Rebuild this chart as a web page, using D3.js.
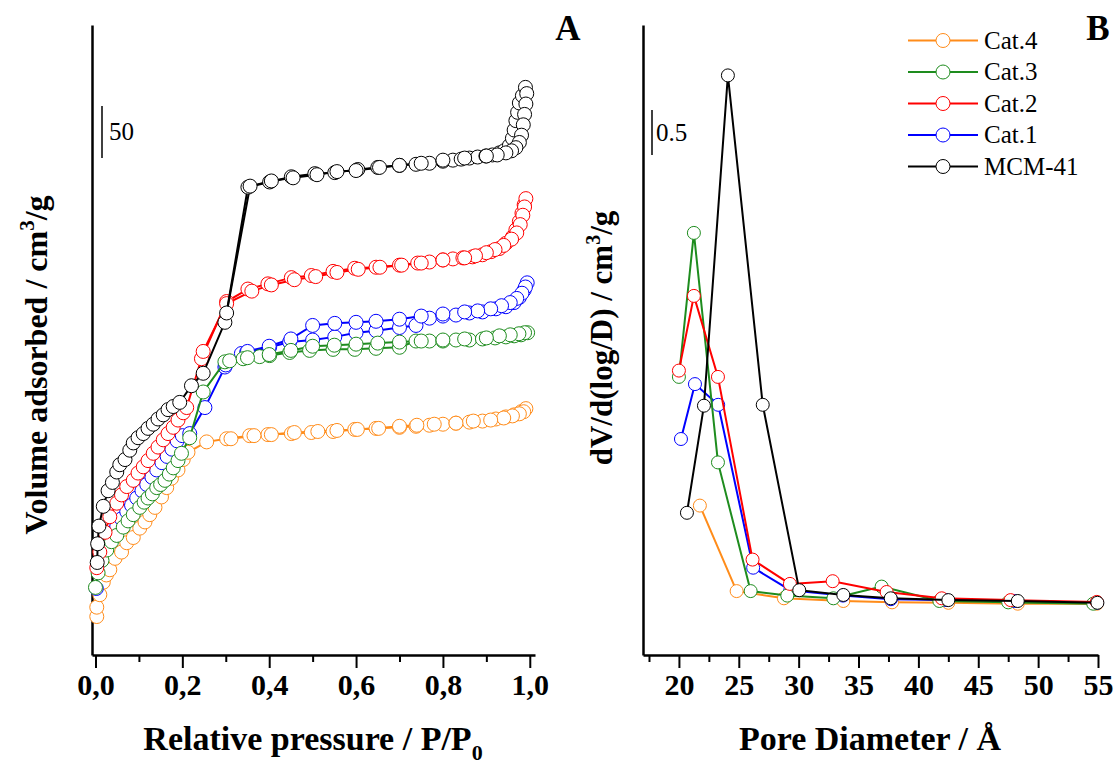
<!DOCTYPE html>
<html>
  <body style="margin:0;background:#fff">
    <style>
      text {
        font-family: 'Liberation Serif', 'Times New Roman', serif;
      }
      .tick text {
        font-size: 30px;
        font-weight: bold;
      }
      .title {
        font-weight: bold;
      }
    </style>
    <div class="chart"></div>
    <script src="https://cdn.jsdelivr.net/npm/d3@7"></script>
    <script type="text/javascript">
      // ---------- panel A: N2 isotherms, [P/P0, volume] ----------
      const pressureTicks = [0, 0.2, 0.4, 0.6, 0.8, 1.0];
      const pressureMinor = [0.1, 0.3, 0.5, 0.7, 0.9];

      const cat4Ads = [[0.003, 37], [0.003, 46], [0.01, 58], [0.018, 70], [0.025, 77], [0.033, 82], [0.045, 93],
        [0.06, 99], [0.072, 108], [0.087, 113], [0.102, 122], [0.114, 128], [0.125, 135], [0.137, 142],
        [0.152, 152], [0.164, 161], [0.175, 170], [0.19, 178], [0.202, 188], [0.213, 195], [0.256, 205],
        [0.302, 208], [0.355, 211], [0.397, 212], [0.451, 213], [0.497, 214], [0.547, 215], [0.597, 217],
        [0.646, 218], [0.7, 219], [0.738, 220], [0.769, 221], [0.8, 222], [0.83, 223], [0.861, 224],
        [0.891, 225], [0.922, 227], [0.945, 229], [0.964, 231], [0.98, 234], [0.991, 237]];
      const cat4Des = [[0.991, 237], [0.986, 234], [0.976, 232], [0.96, 230], [0.94, 228], [0.91, 226],
        [0.87, 225], [0.83, 223], [0.78, 222], [0.74, 221], [0.7, 220], [0.652, 218], [0.603, 217],
        [0.556, 216], [0.512, 215], [0.458, 214], [0.405, 212], [0.365, 211], [0.312, 208]];

      const cat1Ads = [[0.002, 64], [0.008, 89], [0.02, 106], [0.035, 117], [0.049, 124], [0.06, 131],
        [0.072, 138], [0.083, 144], [0.095, 151], [0.107, 158], [0.118, 164], [0.13, 171], [0.141, 178],
        [0.153, 185], [0.165, 191], [0.176, 198], [0.188, 206], [0.2, 211], [0.217, 213], [0.252, 238],
        [0.298, 277], [0.336, 290], [0.348, 291], [0.401, 296], [0.447, 301], [0.5, 303], [0.551, 306],
        [0.6, 310], [0.646, 312], [0.7, 315], [0.738, 317], [0.769, 324], [0.8, 326], [0.83, 327],
        [0.861, 329], [0.891, 330], [0.922, 333], [0.945, 335], [0.964, 339], [0.976, 344], [0.987, 351],
        [0.994, 358]];
      const cat1Des = [[0.994, 358], [0.99, 354], [0.982, 348], [0.97, 343], [0.955, 339], [0.935, 336],
        [0.91, 333], [0.88, 331], [0.85, 330], [0.8, 328], [0.75, 326], [0.7, 323], [0.646, 321],
        [0.6, 320], [0.551, 319], [0.5, 317], [0.45, 304], [0.4, 297], [0.35, 292], [0.3, 279]];

      const cat3Ads = [[0.0, 65], [0.006, 79], [0.015, 91], [0.026, 101], [0.037, 109], [0.049, 115],
        [0.064, 123], [0.075, 129], [0.087, 135], [0.102, 142], [0.112, 147], [0.121, 151], [0.131, 155],
        [0.141, 161], [0.15, 164], [0.16, 168], [0.17, 174], [0.179, 180], [0.19, 187], [0.198, 194],
        [0.217, 209], [0.248, 253], [0.298, 282], [0.309, 283], [0.34, 285], [0.378, 287], [0.401, 288],
        [0.447, 291], [0.493, 293], [0.547, 294], [0.597, 294], [0.646, 295], [0.7, 296], [0.738, 302],
        [0.769, 302], [0.8, 302], [0.83, 303], [0.861, 303], [0.891, 304], [0.92, 305], [0.945, 306],
        [0.964, 307], [0.98, 308], [0.995, 310]];
      const cat3Des = [[0.995, 310], [0.988, 310], [0.975, 309], [0.955, 308], [0.93, 307], [0.9, 305],
        [0.85, 304], [0.8, 303], [0.75, 302], [0.7, 301], [0.65, 300], [0.6, 299], [0.55, 298],
        [0.5, 297], [0.45, 293], [0.4, 289], [0.35, 286]];

      const cat2Ads = [[0.003, 84], [0.01, 99], [0.022, 118], [0.033, 133], [0.049, 146], [0.06, 154],
        [0.072, 162], [0.087, 168], [0.098, 175], [0.11, 181], [0.121, 187], [0.133, 194], [0.144, 200],
        [0.156, 207], [0.167, 213], [0.179, 219], [0.19, 226], [0.202, 233], [0.21, 238], [0.244, 285],
        [0.302, 340], [0.351, 352], [0.397, 357], [0.451, 363], [0.497, 365], [0.547, 369], [0.597, 372],
        [0.646, 373], [0.7, 375], [0.742, 377], [0.769, 378], [0.8, 380], [0.823, 381], [0.846, 382],
        [0.868, 383], [0.891, 385], [0.911, 388], [0.93, 391], [0.945, 396], [0.96, 402], [0.968, 409],
        [0.976, 417], [0.982, 425], [0.987, 433], [0.991, 439]];
      const cat2Des = [[0.991, 439], [0.988, 431], [0.984, 423], [0.978, 414], [0.97, 406], [0.958, 400],
        [0.94, 394], [0.92, 390], [0.9, 387], [0.875, 384], [0.85, 382], [0.8, 380], [0.75, 377],
        [0.705, 375], [0.655, 373], [0.605, 371], [0.556, 368], [0.507, 364], [0.458, 361], [0.405, 356],
        [0.36, 350], [0.302, 338], [0.248, 292]];

      const mcmAds = [[0.004, 89], [0.005, 107], [0.008, 124], [0.018, 143], [0.029, 158], [0.039, 166],
        [0.049, 176], [0.056, 183], [0.068, 188], [0.079, 197], [0.087, 204], [0.098, 209], [0.11, 213],
        [0.121, 218], [0.133, 222], [0.144, 227], [0.156, 231], [0.167, 236], [0.179, 239], [0.194, 243],
        [0.221, 259], [0.248, 271], [0.298, 320], [0.351, 450], [0.401, 455], [0.451, 460], [0.505, 463],
        [0.551, 464], [0.604, 467], [0.65, 469], [0.7, 471], [0.738, 472], [0.769, 473], [0.8, 475],
        [0.823, 476], [0.842, 477], [0.861, 478], [0.88, 479], [0.899, 480], [0.914, 481], [0.93, 483],
        [0.941, 485], [0.953, 490], [0.96, 497], [0.964, 505], [0.968, 514], [0.972, 522], [0.976, 531],
        [0.983, 538], [0.99, 546]];
      const mcmDes = [[0.99, 546], [0.993, 540], [0.991, 530], [0.988, 520], [0.985, 510], [0.981, 500],
        [0.976, 493], [0.968, 488], [0.958, 485], [0.945, 483], [0.925, 481], [0.9, 480], [0.85, 478],
        [0.8, 476], [0.75, 473], [0.7, 471], [0.654, 469], [0.6, 466], [0.556, 465], [0.51, 462],
        [0.455, 459], [0.405, 456], [0.356, 451], [0.302, 329]];

      // ---------- panel B: pore size distribution, [D, dV/dlogD] ----------
      const poreTicks = [20, 25, 30, 35, 40, 45, 50, 55];
      const poreMinor = [17.5, 22.5, 27.5, 32.5, 37.5, 42.5, 47.5, 52.5];

      const cat4Psd = [[21.75, 1.66], [24.82, 0.71], [28.77, 0.63], [33.73, 0.6], [37.8, 0.585],
        [42.5, 0.58], [48.3, 0.57], [54.9, 0.57]];
      const cat1Psd = [[20.17, 2.4], [21.34, 3.01], [23.28, 2.78], [26.2, 0.97], [29.3, 0.72],
        [33.7, 0.66], [37.7, 0.62], [42.3, 0.61], [48.0, 0.6], [54.9, 0.58]];
      const cat3Psd = [[20.0, 3.09], [21.25, 4.69], [23.26, 2.14], [25.99, 0.71], [29.05, 0.66],
        [32.9, 0.63], [36.93, 0.76], [41.75, 0.6], [47.5, 0.585], [54.6, 0.57]];
      const cat2Psd = [[20.0, 3.16], [21.25, 3.99], [23.26, 3.09], [26.15, 1.06], [29.27, 0.79],
        [32.84, 0.82], [37.35, 0.7], [41.95, 0.63], [47.7, 0.61], [54.9, 0.59]];
      const mcmPsd = [[20.67, 1.58], [22.09, 2.77], [24.09, 6.44], [27.0, 2.78], [30.05, 0.72],
        [33.73, 0.667], [37.69, 0.63], [42.5, 0.61], [48.3, 0.6], [54.95, 0.58]];

      const seriesNames = ['Cat.4', 'Cat.1', 'Cat.3', 'Cat.2', 'MCM-41'];
      const seriesColors = ['#ff8c1a', '#0000ff', '#1e8c1e', '#ff0000', '#000000'];
      const legendOrder = ['Cat.4', 'Cat.3', 'Cat.2', 'Cat.1', 'MCM-41'];

      const isotherms = [
        { name: 'Cat.4', ads: cat4Ads, des: cat4Des },
        { name: 'Cat.1', ads: cat1Ads, des: cat1Des },
        { name: 'Cat.3', ads: cat3Ads, des: cat3Des },
        { name: 'Cat.2', ads: cat2Ads, des: cat2Des },
        { name: 'MCM-41', ads: mcmAds, des: mcmDes },
      ];
      const psd = [
        { name: 'Cat.4', values: cat4Psd },
        { name: 'Cat.1', values: cat1Psd },
        { name: 'Cat.3', values: cat3Psd },
        { name: 'Cat.2', values: cat2Psd },
        { name: 'MCM-41', values: mcmPsd },
      ];
      const color = d3.scaleOrdinal().domain(seriesNames).range(seriesColors);

      const width = 1117;
      const height = 765;
      const svg = d3
        .select('.chart')
        .append('svg')
        .attr('width', width)
        .attr('height', height);

      const serif = "'Liberation Serif', 'Times New Roman', serif";
      const commaFormat = (d) => d3.format('.1f')(d).replace('.', ',');

      function drawAxes(x, y, majors, minors, fmt) {
        const gx = svg.append('g').attr('transform', `translate(0, ${y.range()[0]})`);
        gx.call(d3.axisBottom(x).tickValues(minors).tickSize(7).tickSizeOuter(0).tickFormat(''));
        gx.call((g) => g.select('.domain').remove());
        const gx2 = svg.append('g').attr('transform', `translate(0, ${y.range()[0]})`);
        gx2.call(d3.axisBottom(x).tickValues(majors).tickSize(13).tickSizeOuter(0).tickFormat(fmt).tickPadding(6));
        gx2.attr('font-family', serif);
        svg.selectAll('.tick line').attr('stroke', '#000').attr('stroke-width', 2);
        gx2.select('.domain').attr('stroke-width', 2.5);
        gx2.selectAll('.tick text')
          .attr('fill', '#000')
          .style('font-family', serif)
          .style('font-weight', 'bold');
        const gy = svg.append('g').attr('transform', `translate(${x.range()[0]}, 0)`);
        gy.call(d3.axisLeft(y).tickValues([]).tickSizeOuter(0));
        gy.select('.domain').attr('stroke-width', 2.5);
      }

      // ---------- panel A ----------
      const xA = d3.scaleLinear().domain([-0.008, 1.012]).range([92, 535]);
      const yA = d3.scaleLinear().domain([0, 606]).range([655, 25]);
      drawAxes(xA, yA, pressureTicks, pressureMinor, commaFormat);

      const lineA = d3.line().x((d) => xA(d[0])).y((d) => yA(d[1]));
      isotherms.forEach((s) => {
        const g = svg.append('g');
        [s.ads, s.des].forEach((pts) => {
          g.append('path')
            .attr('d', lineA(pts))
            .attr('fill', 'none')
            .attr('stroke', color(s.name))
            .attr('stroke-width', 2);
        });
        g.selectAll('circle')
          .data(s.ads.concat(s.des.slice(1)))
          .enter()
          .append('circle')
          .attr('cx', (d) => xA(d[0]))
          .attr('cy', (d) => yA(d[1]))
          .attr('r', 7)
          .attr('fill', '#fff')
          .attr('stroke', color(s.name))
          .attr('stroke-width', 1);
      });

      // scale bar 50 cm3/g
      svg.append('line')
        .attr('x1', 102).attr('x2', 102)
        .attr('y1', yA(528)).attr('y2', yA(478))
        .attr('stroke', '#000').attr('stroke-width', 1.5);
      svg.append('text').attr('x', 109).attr('y', yA(503) + 8).attr('font-size', 25).text('50');

      svg.append('text').attr('x', 568).attr('y', 40).attr('text-anchor', 'middle')
        .attr('font-size', 35).attr('font-weight', 'bold').text('A');

      const titleA = svg.append('text').attr('class', 'title').attr('font-size', 34)
        .attr('x', 313).attr('y', 750).attr('text-anchor', 'middle');
      titleA.append('tspan').text('Relative pressure / P/P');
      titleA.append('tspan').attr('dy', 10).attr('font-size', 22).text('0');

      const yTitleA = svg.append('text').attr('class', 'title').attr('font-size', 32)
        .attr('transform', 'translate(47, 365) rotate(-90)').attr('text-anchor', 'middle');
      yTitleA.append('tspan').text('Volume adsorbed / cm');
      yTitleA.append('tspan').attr('dy', -13).attr('font-size', 21).text('3');
      yTitleA.append('tspan').attr('dy', 13).text('/g');

      // ---------- panel B ----------
      const xB = d3.scaleLinear().domain([17, 55]).range([643, 1098]);
      const yB = d3.scaleLinear().domain([0, 7]).range([655, 25]);
      drawAxes(xB, yB, poreTicks, poreMinor, d3.format('d'));

      const lineB = d3.line().x((d) => xB(d[0])).y((d) => yB(d[1]));
      psd.forEach((s) => {
        const g = svg.append('g');
        g.append('path')
          .attr('d', lineB(s.values))
          .attr('fill', 'none')
          .attr('stroke', color(s.name))
          .attr('stroke-width', 2);
        g.selectAll('circle')
          .data(s.values)
          .enter()
          .append('circle')
          .attr('cx', (d) => xB(d[0]))
          .attr('cy', (d) => yB(d[1]))
          .attr('r', 6.5)
          .attr('fill', '#fff')
          .attr('stroke', color(s.name))
          .attr('stroke-width', 1);
      });

      // scale bar 0.5
      svg.append('line')
        .attr('x1', 652).attr('x2', 652)
        .attr('y1', yB(6.055)).attr('y2', yB(5.555))
        .attr('stroke', '#000').attr('stroke-width', 1.5);
      svg.append('text').attr('x', 656).attr('y', yB(5.805) + 8.5).attr('font-size', 25).text('0.5');

      svg.append('text').attr('x', 1098).attr('y', 40).attr('text-anchor', 'middle')
        .attr('font-size', 35).attr('font-weight', 'bold').text('B');

      svg.append('text').attr('class', 'title').attr('font-size', 34)
        .attr('x', 870).attr('y', 750).attr('text-anchor', 'middle').text('Pore Diameter / Å');

      const yTitleB = svg.append('text').attr('class', 'title').attr('font-size', 31)
        .attr('transform', 'translate(612, 338) rotate(-90)').attr('text-anchor', 'middle');
      yTitleB.append('tspan').text('dV/d(log/D) / cm');
      yTitleB.append('tspan').attr('dy', -12).attr('font-size', 20).text('3');
      yTitleB.append('tspan').attr('dy', 12).text('/g');

      // legend
      const legend = svg.append('g').attr('transform', 'translate(908, 40.5)');
      const row = legend.selectAll('g').data(legendOrder).enter().append('g')
        .attr('transform', (d, i) => `translate(0, ${i * 31.5})`);
      row.append('line').attr('x1', 0).attr('x2', 70)
        .attr('stroke', (d) => color(d)).attr('stroke-width', 2);
      row.append('circle').attr('cx', 35).attr('r', 7).attr('fill', '#fff')
        .attr('stroke', (d) => color(d)).attr('stroke-width', 1);
      row.append('text').attr('x', 76).attr('y', 8).attr('font-size', 25).text((d) => d);
    </script>
  </body>
</html>
